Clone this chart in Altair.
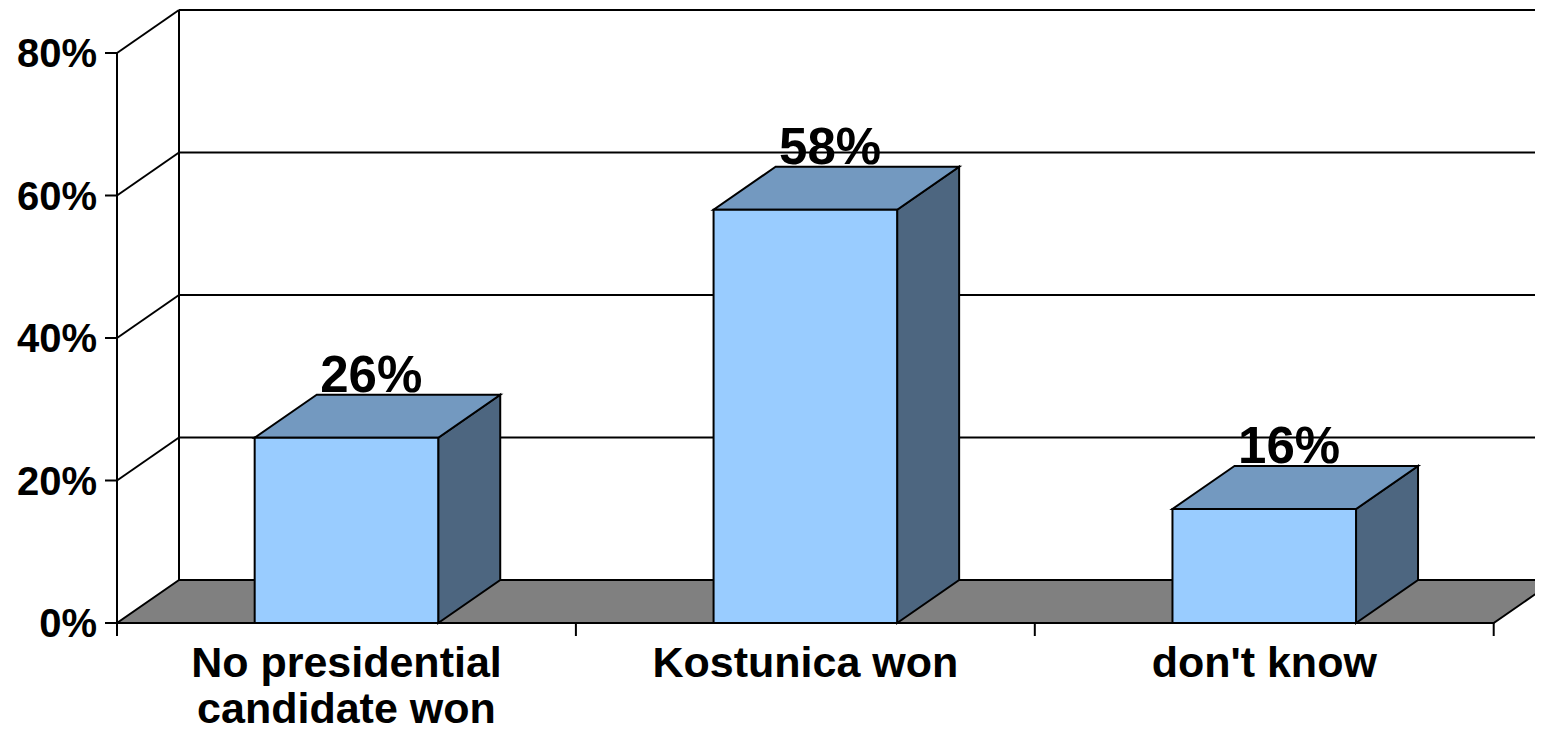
import altair as alt
import pandas as pd

# ---- data ----
categories = ["No presidential\ncandidate won", "Kostunica won", "don't know"]
values = [26, 58, 16]
value_labels = ["26%", "58%", "16%"]
y_ticks = [0, 20, 40, 60, 80]
y_labels = ["0%", "20%", "40%", "60%", "80%"]

# ---- geometry (pixel measures of the 3D look) ----
PX_X = 458.9          # pixels per category slot
PX_Y = 7.125          # pixels per percent
PLOT_W = 1418
PLOT_H = 615
XMAX = PLOT_W / PX_X
YMAX = PLOT_H / PX_Y
DX = 62 / PX_X        # depth offset, x
DY = 43 / PX_Y        # depth offset, y
LO, HI = 0.3, 0.7     # bar extent inside its slot
TICK_X = 12 / PX_X
TICK_Y = 13 / PX_Y
N = len(categories)
TOP = max(y_ticks)

FONT = "Liberation Sans"
FRONT = "#99CCFF"
TOPC = "#7399C0"
SIDE = "#4D6680"
FLOOR = "#808080"

xs = alt.Scale(domain=[0, XMAX], nice=False, zero=False)
ys = alt.Scale(domain=[0, YMAX], nice=False, zero=False)


def X(f):
    return alt.X(f, type="quantitative", scale=xs, axis=None)


def Y(f):
    return alt.Y(f, type="quantitative", scale=ys, axis=None)


# ---- derived tables ----
front = pd.DataFrame([{"i": i, "x": i + LO, "x2": i + HI, "y": 0, "y2": v}
                      for i, v in enumerate(values)])
top_rows, side_rows = [], []
for i, v in enumerate(values):
    top_rows += [{"i": i, "y": v, "x": i + LO, "x2": i + HI},
                 {"i": i, "y": v + DY, "x": i + LO + DX, "x2": i + HI + DX}]
    side_rows += [{"i": i, "x": i + HI, "y": 0, "y2": v},
                  {"i": i, "x": i + HI + DX, "y": DY, "y2": v + DY}]
top = pd.DataFrame(top_rows)
side = pd.DataFrame(side_rows)
floor = pd.DataFrame([{"y": 0, "x": 0, "x2": N},
                      {"y": DY, "x": DX, "x2": N + DX}])

grid_back = pd.DataFrame([{"x": DX, "x2": XMAX + 1, "y": g + DY} for g in y_ticks if g > 0])
wall_diag = pd.DataFrame([{"x": 0, "x2": DX, "y": g, "y2": g + DY} for g in y_ticks if g > 0])
lines = pd.DataFrame([
    {"x": DX, "x2": DX, "y": DY, "y2": TOP + DY},      # back wall left edge
    {"x": 0, "x2": 0, "y": -TICK_Y, "y2": TOP},        # front value axis
    {"x": 0, "x2": N, "y": 0, "y2": 0},                # front category axis
] + [{"x": k, "x2": k, "y": 0, "y2": -TICK_Y} for k in range(1, N + 1)]
  + [{"x": 0, "x2": -TICK_X, "y": g, "y2": g} for g in y_ticks])

ylab = pd.DataFrame({"y": y_ticks, "t": y_labels, "x": [0] * len(y_ticks)})
xlab = pd.DataFrame({"x": [i + 0.5 for i in range(N)], "y": [0] * N, "t": categories})
vlab = pd.DataFrame({"x": [i + 0.5 + DX * 0.4 for i in range(N)],
                     "y": [v + DY for v in values], "t": value_labels})

# ---- layers ----
floor_l = alt.Chart(floor).mark_area(orient="horizontal", color=FLOOR, stroke="black",
                                     strokeWidth=2).encode(y=Y("y"), x=X("x"), x2="x2")
grid_l = alt.Chart(grid_back).mark_rule(color="black", strokeWidth=2).encode(
    x=X("x"), x2="x2", y=Y("y"))
diag_l = alt.Chart(wall_diag).mark_rule(color="black", strokeWidth=2).encode(
    x=X("x"), x2="x2", y=Y("y"), y2="y2")
lines_l = alt.Chart(lines).mark_rule(color="black", strokeWidth=2).encode(
    x=X("x"), x2="x2", y=Y("y"), y2="y2")

side_l = alt.Chart(side).mark_area(color=SIDE, stroke="black", strokeWidth=2).encode(
    x=X("x"), y=Y("y"), y2="y2", detail="i:N")
top_l = alt.Chart(top).mark_area(orient="horizontal", color=TOPC, stroke="black",
                                 strokeWidth=2).encode(y=Y("y"), x=X("x"), x2="x2", detail="i:N")
front_l = alt.Chart(front).mark_rect(color=FRONT, stroke="black", strokeWidth=2).encode(
    x=X("x"), x2="x2", y=Y("y"), y2="y2")

ylab_l = alt.Chart(ylab).mark_text(font=FONT, fontWeight="bold", fontSize=40, align="right",
                                   baseline="middle", dx=-20, dy=2, color="black").encode(
    x=X("x"), y=Y("y"), text="t:N")
xlab_l = alt.Chart(xlab).mark_text(font=FONT, fontWeight="bold", fontSize=43, align="center",
                                   baseline="top", dy=20, lineBreak="\n", lineHeight=46,
                                   color="black").encode(x=X("x"), y=Y("y"), text="t:N")
vlab_l = alt.Chart(vlab).mark_text(font=FONT, fontWeight="bold", fontSize=51, align="center",
                                   baseline="alphabetic", dy=-3, color="black").encode(
    x=X("x"), y=Y("y"), text="t:N")

chart = alt.layer(floor_l, grid_l, diag_l, lines_l, side_l, top_l, front_l,
                  ylab_l, xlab_l, vlab_l).properties(
    width=PLOT_W, height=PLOT_H,
    autosize=alt.AutoSizeParams(type="none"),
    padding={"left": 109, "top": 0, "right": 0, "bottom": 108},
    background="white",
).configure_view(stroke=None)

chart.save("out.html", embed_options={"renderer": "svg", "actions": False})
